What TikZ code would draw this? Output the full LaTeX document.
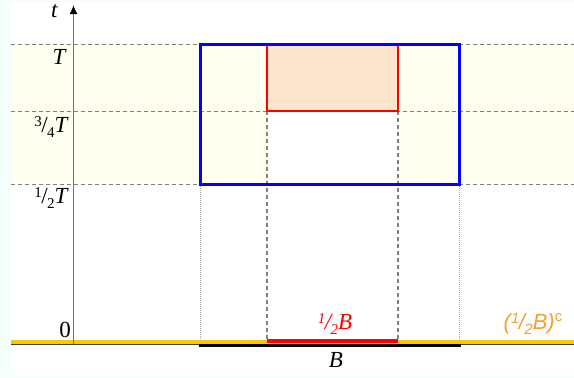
\documentclass[tikz,border=0pt]{standalone}
\usepackage{fontspec}
\setmainfont{Liberation Serif}
\newfontfamily\arialfont{Liberation Sans}
\usetikzlibrary{arrows.meta}
\definecolor{bgazure}{HTML}{F4FEFC}
\definecolor{paleyellow}{HTML}{FEFFEE}
\definecolor{peach}{HTML}{FDE4CC}
\definecolor{gold}{HTML}{F8C800}
\definecolor{orangetxt}{HTML}{F5A030}
\definecolor{guidegray}{HTML}{808080}
\definecolor{axisgray}{HTML}{707070}
\newcommand{\fsup}[1]{\raisebox{6.5pt}{\fontsize{15}{15}\selectfont #1}}
\newcommand{\fsub}[1]{\raisebox{-5pt}{\fontsize{15}{15}\selectfont #1}}
\begin{document}
\begin{tikzpicture}[x=1pt,y=-1pt,
  lbl/.style={inner sep=0pt,font=\fontsize{23}{25}\selectfont},
  hguide/.style={draw=guidegray,line width=0.9pt,dash pattern=on 4pt off 3pt},
  vdash/.style={draw=guidegray,line width=1.2pt,dash pattern=on 4pt off 3pt},
  vdot/.style={draw=guidegray!70,line width=0.6pt,dash pattern=on 1pt off 1pt}]
\useasboundingbox (0,0) rectangle (574,378);
\fill[bgazure] (0,0) rectangle (574,378);
\fill[white] (11,2) rectangle (574,375);
% bands
\fill[paleyellow] (11,44) rectangle (574,184);
\fill[white] (267,111) rectangle (398,184);
\fill[peach] (267,44) rectangle (398,111);
% named coordinates
\coordinate (hL1) at (11,44);  \coordinate (hR1) at (574,44);
\coordinate (hL2) at (11,111); \coordinate (hR2) at (574,111);
\coordinate (hL3) at (11,184); \coordinate (hR3) at (574,184);
\coordinate (d1t) at (200,184); \coordinate (d1b) at (200,344);
\coordinate (d2t) at (459,184); \coordinate (d2b) at (459,344);
\coordinate (e1t) at (267,111); \coordinate (e1b) at (267,341);
\coordinate (e2t) at (398,111); \coordinate (e2b) at (398,341);
\coordinate (axB) at (73.5,344); \coordinate (axT) at (73.5,5);
\coordinate (gL) at (11,341.5); \coordinate (gR) at (574,341.5);
\coordinate (rL) at (267,341); \coordinate (rR) at (398,341);
\coordinate (kL) at (11,344.2); \coordinate (kR) at (574,344.2);
\coordinate (bL) at (199,345.4); \coordinate (bR) at (461,345.4);
% guides
\draw[hguide] (hL1) -- (hR1);
\draw[hguide] (hL2) -- (hR2);
\draw[hguide] (hL3) -- (hR3);
\draw[vdot] (d1t) -- (d1b);
\draw[vdot] (d2t) -- (d2b);
\draw[vdash] (e1t) -- (e1b);
\draw[vdash] (e2t) -- (e2b);
% rectangles
\draw[red,line width=1.5pt] (267,44) rectangle (398,111);
\draw[blue,line width=3pt] (200.5,44.5) rectangle (459,184);
% baseline lines
\draw[axisgray!60!black,line width=0.9pt] (kL) -- (kR);
\draw[gold,line width=4pt] (gL) -- (gR);
\draw[red,line width=4pt] (rL) -- (rR);
\draw[black,line width=2.8pt] (bL) -- (bR);
% axis
\draw[axisgray,line width=1.5pt,-{Latex[length=9pt,width=8pt,color=black]}] (axB) -- (axT);
% labels
\node[lbl] (lt) at (54.5,11) {\textit{t}};
\node[lbl,anchor=east] (lT) at (67,57) {\textit{T}};
\node[lbl,anchor=east] (l34) at (69,127) {\fsup{3}\kern-0.5pt/\kern-0.5pt\fsub{4}\textit{T}};
\node[lbl,anchor=east] (l12) at (69,198) {\fsup{1}\kern-0.5pt/\kern-0.5pt\fsub{2}\textit{T}};
\node[lbl,anchor=east] (l0) at (71,330) {0};
\node[lbl] (lB) at (336,360) {\textit{B}};
\node[lbl,red] (lhB) at (335,324) {\textit{\fsup{1}\kern-0.5pt/\kern-0.5pt\fsub{2}B}};
\node[lbl,orangetxt,font=\arialfont\fontsize{22}{24}\selectfont] (lc) at (533,324) {\textit{(\fsup{1}\kern-0.5pt/\kern-0.5pt\fsub{2}B)}\raisebox{8pt}{\fontsize{15}{15}\selectfont c}};
\end{tikzpicture}
\end{document}
